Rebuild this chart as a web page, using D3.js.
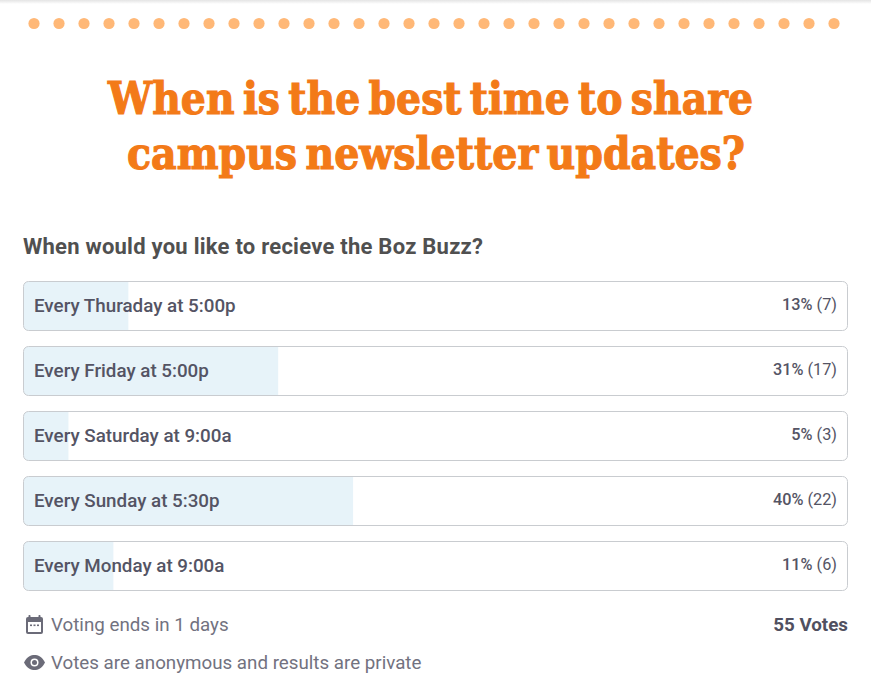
<!DOCTYPE html>
<html><head><meta charset="utf-8">
<script src="https://cdn.jsdelivr.net/npm/d3@7"></script>
<style>html,body{margin:0;padding:0;background:#fff;overflow:hidden}svg{display:block}text{font-family:Roboto,sans-serif}</style>
</head><body><div id="c"></div>
<script>
const categories=["Every Thuraday at 5:00p","Every Friday at 5:00p","Every Saturday at 9:00a","Every Sunday at 5:30p","Every Monday at 9:00a"];
const votes=[7,17,3,22,6];
const percents=["13%","31%","5%","40%","11%"];
const titleLines=["When is the best time to share","campus newsletter updates?"];
const question="When would you like to recieve the Boz Buzz?";
const totalLabel="55 Votes";
const footnotes=["Voting ends in 1 days","Votes are anonymous and results are private"];
const dotCount=33;

const W=871,H=696;
const svg=d3.select("#c").append("svg").attr("width",W).attr("height",H);
const defs=svg.append("defs");
const grad=defs.append("linearGradient").attr("id","top").attr("x1",0).attr("x2",0).attr("y1",0).attr("y2",1);
grad.append("stop").attr("offset",0).attr("stop-color","#e4e4e4");
grad.append("stop").attr("offset",1).attr("stop-color","#ffffff");
svg.append("rect").attr("width",W).attr("height",4).attr("fill","url(#top)");

const dotX=d3.scalePoint().domain(d3.range(dotCount)).range([34,834]);
svg.append("g").selectAll("circle").data(d3.range(dotCount)).join("circle")
 .attr("cx",d=>dotX(d)).attr("cy",23.5).attr("r",5.6).attr("fill","#ffb877");

svg.append("g").selectAll("text").data(titleLines).join("text")
 .attr("x",(d,i)=>i?436:430.5).attr("y",(d,i)=>i?168.5:114).attr("text-anchor","middle")
 .attr("textLength",(d,i)=>i?618:645).attr("lengthAdjust","spacingAndGlyphs")
 .style("font-family","'DejaVu Serif',serif").style("font-weight",700).style("font-size","44px").style("word-spacing","-6px")
 .attr("fill","#f37a18").attr("stroke","#f37a18").attr("stroke-width",1.2).text(d=>d);

svg.append("text").attr("x",23).attr("y",253.5).attr("fill","#505050")
 .style("font-size","22px").style("font-weight",700).attr("textLength",460).text(question);

const x=d3.scaleLinear().domain([0,55]).range([0,824]);
const y=d3.scaleBand().domain(categories).range([281,591]).paddingInner(15/65).paddingOuter(0);
const rows=svg.append("g").selectAll("g").data(categories).join("g")
 .attr("transform",d=>`translate(23.5,${y(d)+.5})`);
const rowH=y.bandwidth()-1;
rows.each(function(d,i){
 const g=d3.select(this);
 defs.append("clipPath").attr("id","cl"+i).append("rect").attr("width",824).attr("height",rowH).attr("rx",5);
 g.append("rect").attr("clip-path",`url(#cl${i})`).attr("width",x(votes[i])).attr("height",rowH).attr("fill","#e7f3f9");
 g.append("rect").attr("width",824).attr("height",rowH).attr("rx",5).attr("fill","none").attr("stroke","#c9ccd0");
 g.append("text").attr("x",10.5).attr("y",30).attr("fill","#545464").style("font-size","18.8px").style("font-weight",500).text(d);
 g.append("text").attr("x",813.5).attr("y",28.5).attr("text-anchor","end").attr("fill","#545464").style("font-size","16.3px").style("font-weight",400)
  .html(`<tspan font-weight="500">${percents[i]}</tspan> (${votes[i]})`);
});

const ic=svg.append("g").attr("fill","#6b6b78");
ic.append("rect").attr("x",26).attr("y",617).attr("width",17).attr("height",17).attr("rx",2);
ic.append("rect").attr("x",28.5).attr("y",615).attr("width",2).attr("height",4).attr("rx",.7);
ic.append("rect").attr("x",38.5).attr("y",615).attr("width",2).attr("height",4).attr("rx",.7);
ic.append("rect").attr("x",28).attr("y",622).attr("width",13).attr("height",10).attr("fill","#fff");
ic.selectAll(".d").data([30,33.5,37]).join("rect").attr("class","d").attr("x",d=>d).attr("y",624.5).attr("width",2).attr("height",1.6);
const eye=svg.append("g");
eye.append("path").attr("d","M24 662.5C27 656.5 31 655 34.500 655C38 655 42 656.5 45 662.500C42 668.500 38 670 34.500 670C31 670 27 668.500 24 662.500Z").attr("fill","#6b6b78");
eye.append("circle").attr("cx",34.5).attr("cy",662.5).attr("r",4).attr("fill","#fff");
eye.append("circle").attr("cx",34.5).attr("cy",662.5).attr("r",2.5).attr("fill","#6b6b78");

svg.append("g").selectAll("text").data(footnotes).join("text")
 .attr("x",51).attr("y",(d,i)=>631+i*38).attr("fill","#72727f").style("font-size","18.75px").style("font-weight",400).text(d=>d);
svg.append("text").attr("x",848).attr("y",631).attr("text-anchor","end").attr("fill","#505060").style("font-size","18.8px").style("font-weight",700).text(totalLabel);
</script></body></html>
